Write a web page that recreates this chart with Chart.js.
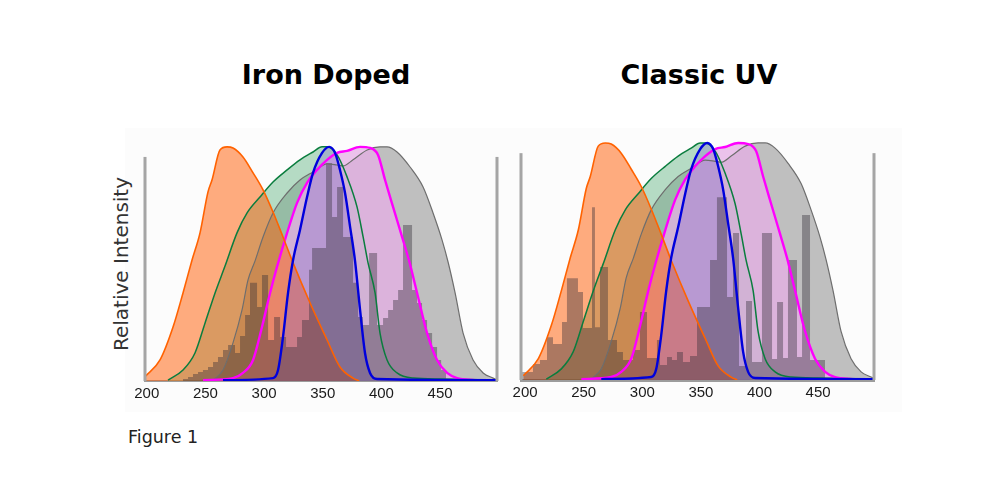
<!DOCTYPE html>
<html><head><meta charset="utf-8">
<script src="https://cdn.jsdelivr.net/npm/chart.js@4.4.1/dist/chart.umd.min.js"></script>
<style>
html,body{margin:0;padding:0;background:#fff;}
body{width:1000px;height:501px;position:relative;overflow:hidden;font-family:"DejaVu Sans",sans-serif;}
#panel{position:absolute;left:125px;top:128px;width:777px;height:284px;background:#fcfcfc;}
canvas{position:absolute;}
.title{position:absolute;top:60px;width:300px;text-align:center;font-weight:bold;font-size:27px;line-height:30px;color:#000;}
#ylab{position:absolute;left:11px;top:252px;width:220px;height:24px;line-height:24px;text-align:center;font-size:20px;color:#333;transform:rotate(-90deg);}
#fig{position:absolute;left:128px;top:428px;font-size:17.5px;line-height:18px;color:#222;}
</style></head><body>
<div id="panel"></div>
<div class="title" style="left:176px">Iron Doped</div>
<div class="title" style="left:549px">Classic UV</div>
<div id="ylab">Relative Intensity</div>
<div id="fig">Figure 1</div>
<canvas id="c1" width="392" height="311" style="left:125px;top:100px"></canvas>
<canvas id="c2" width="393" height="314" style="left:501px;top:96px"></canvas>
<script>
const tickValues = [200, 250, 300, 350, 400, 450];

const orangeX = [198.5, 211.3, 222.4, 230.9, 238.6, 245.4, 252.2, 255.6, 262.4, 268.4, 273.5, 282.0, 290.6, 299.1, 307.6, 316.1, 324.7, 339.2, 353.7, 364.7, 375.8, 381];
const orangeY = [0.019, 0.094, 0.241, 0.393, 0.540, 0.661, 0.844, 0.897, 1.031, 1.045, 1.040, 1.0, 0.929, 0.853, 0.754, 0.643, 0.527, 0.348, 0.183, 0.0625, 0.013, 0];

const greenX = [218.1, 230.9, 241.1, 249.7, 258.2, 266.7, 276.9, 285.5, 296.5, 307.6, 319.6, 330.6, 341.7, 349.4, 353.7, 362.2, 370.7, 379.2, 384.4, 388.6, 394.6, 398.8, 404.8, 413.3, 427.0, 450, 498.5];
const greenY = [0.004, 0.049, 0.125, 0.259, 0.393, 0.513, 0.661, 0.75, 0.821, 0.888, 0.942, 0.987, 1.022, 1.045, 1.045, 1.009, 0.911, 0.777, 0.643, 0.527, 0.393, 0.214, 0.094, 0.036, 0.013, 0.009, 0.004];

const grayX = [256.5, 265.0, 273.5, 281.2, 286.3, 292.3, 299.1, 307.6, 319.6, 330.6, 341.7, 353.7, 362.2, 367.3, 375.8, 387.8, 398.8, 404.8, 413.3, 424.4, 435.5, 444.0, 451.7, 456.8, 462.8, 469.6, 478.1, 486.7, 495.2, 498.5];
const grayY = [0.004, 0.049, 0.170, 0.317, 0.451, 0.536, 0.643, 0.75, 0.839, 0.897, 0.933, 0.969, 0.964, 0.960, 0.987, 1.031, 1.045, 1.045, 1.022, 0.955, 0.866, 0.75, 0.629, 0.531, 0.393, 0.214, 0.094, 0.036, 0.013, 0.005];

const magentaX = [248, 273.5, 282.0, 290.6, 298.2, 305.1, 311.0, 319.6, 328.1, 336.6, 345.1, 353.7, 362.2, 370.7, 381.8, 390.3, 397.1, 403.1, 409.9, 417.6, 423.6, 430.4, 438.9, 447.4, 456.0, 464.5, 479.8];
const magentaY = [0.004, 0.013, 0.036, 0.094, 0.241, 0.393, 0.509, 0.661, 0.795, 0.884, 0.942, 0.987, 1.018, 1.027, 1.045, 1.040, 1.009, 0.897, 0.777, 0.643, 0.536, 0.393, 0.214, 0.094, 0.036, 0.013, 0.004];

const blueX = [265, 307.6, 311.9, 316.1, 320.4, 324.7, 330.6, 336.6, 341.7, 349.4, 355.4, 360.5, 364.7, 369.0, 373.3, 377.5, 381.8, 386.0, 390.3, 396.3, 498.5];
const blueY = [0.004, 0.013, 0.049, 0.196, 0.393, 0.540, 0.674, 0.821, 0.929, 1.018, 1.045, 1.018, 0.942, 0.839, 0.688, 0.536, 0.317, 0.125, 0.036, 0.009, 0.004];

// lamp spectra: bin start wavelengths and relative heights
const ironHistEdges = [230.9, 235.2, 239.4, 243.7, 247.9, 252.2, 256.5, 260.7, 265.0, 269.3, 275.2, 279.5, 283.8, 288.0, 294.0, 298.2, 303.4, 308.5, 313.6, 318.7, 328.1, 332.3, 338.3, 340.9, 352.8, 357.9, 362.2, 367.3, 375.8, 380.1, 384.3, 389.5, 396.3, 401.4, 405.7, 409.9, 414.2, 418.4, 426.1, 430.4, 434.6, 438.9, 443.2, 447.4, 450.9, 455.1];
const ironHistHeights = [0.009, 0.018, 0.031, 0.040, 0.049, 0.063, 0.085, 0.107, 0.138, 0.161, 0.125, 0.201, 0.295, 0.438, 0.330, 0.473, 0.183, 0.286, 0.196, 0.152, 0.196, 0.272, 0.496, 0.594, 0.973, 0.732, 0.866, 0.643, 0.438, 0.286, 0.25, 0.571, 0.25, 0.281, 0.317, 0.362, 0.406, 0.696, 0.406, 0.348, 0.272, 0.214, 0.152, 0.094, 0.049, 0];

const uvHistEdges = [196.5, 206.7, 212.7, 218.7, 223.8, 231.5, 235.7, 245.1, 249.4, 257.1, 259.6, 263.9, 270.7, 278.4, 283.5, 292.1, 298.0, 304.0, 312.5, 315.1, 321.1, 325.3, 329.6, 334.7, 340.7, 346.7, 357.8, 363.7, 372.3, 377.4, 382.5, 388.5, 393.6, 402.1, 410.7, 415.0, 420.1, 424.3, 432.0, 436.3, 443.1, 455.9];
const uvHistHeights = [0.035, 0.070, 0.088, 0.189, 0.159, 0.256, 0.449, 0.388, 0.229, 0.762, 0.233, 0.498, 0.176, 0.123, 0.088, 0.132, 0.300, 0.097, 0.176, 0.066, 0.101, 0.088, 0.123, 0.079, 0.106, 0.322, 0.529, 0.806, 0.366, 0.648, 0.062, 0.348, 0.079, 0.648, 0.093, 0.344, 0.097, 0.529, 0.101, 0.727, 0.088, 0];

const frameHeight = 1.0;

function pts(xs, ys) { return xs.map((x, i) => ({ x: x, y: ys[i] })); }

function curve(label, xs, ys, line, fillc, w, order) {
  return { label, data: pts(xs, ys), borderColor: line, backgroundColor: fillc, borderWidth: w,
           fill: 'origin', pointRadius: 0, cubicInterpolationMode: 'monotone', order };
}

function makeChart(id, histX, histY, xMin, xMax, baseWidth) {
  return new Chart(document.getElementById(id), {
    type: 'line',
    data: { datasets: [
      curve('Gray', grayX, grayY, '#6e6e6e', 'rgba(130,130,130,0.5)', 1.2, 7),
      curve('Green', greenX, greenY, '#0a7d3e', 'rgba(110,185,140,0.5)', 1.5, 6),
      curve('Magenta', magentaX, magentaY, '#ff00ff', 'rgba(230,175,230,0.75)', 2.4, 5),
      curve('Orange', orangeX, orangeY, '#ff6200', 'rgba(255,90,0,0.5)', 1.6, 4),
      curve('Blue', blueX, blueY, '#0000dc', 'rgba(125,95,205,0.3)', 2.4, 3),
      { label: 'Lamp', data: pts(histX, histY), stepped: true, fill: 'origin',
        backgroundColor: 'rgba(50,45,55,0.4)', borderColor: 'rgba(0,0,0,0)', borderWidth: 1, pointRadius: 0, order: 2 },
      { label: 'frameL', data: [{ x: xMin, y: 0 }, { x: xMin, y: frameHeight }], borderColor: '#a5a5a5',
        borderWidth: 3, pointRadius: 0, fill: false, order: 0, clip: false },
      { label: 'frameR', data: [{ x: xMax, y: 0 }, { x: xMax, y: frameHeight }], borderColor: '#a5a5a5',
        borderWidth: 3, pointRadius: 0, fill: false, order: 0, clip: false }
    ] },
    options: {
      responsive: false, animation: false, devicePixelRatio: 1,
      layout: { padding: { left: 20, right: 20, top: 39, bottom: 0 } },
      plugins: { legend: { display: false }, tooltip: { enabled: false }, filler: { drawTime: 'beforeDatasetsDraw' } },
      scales: {
        x: { type: 'linear', min: xMin, max: xMax,
             afterBuildTicks: s => { s.ticks = tickValues.map(v => ({ value: v })); },
             afterFit: s => { s.height = 30; },
             grid: { display: false, drawTicks: false },
             border: { display: true, color: '#9c9c9c', width: baseWidth },
             ticks: { color: '#1a1a1a', font: { family: 'Liberation Sans', size: 15 }, padding: 4, maxRotation: 0, autoSkip: false } },
        y: { display: false, min: 0, max: 1.08 }
      }
    }
  });
}

makeChart('c1', ironHistEdges, ironHistHeights, 198.5, 498.5, 2);
makeChart('c2', uvHistEdges, uvHistHeights, 196.5, 497.7, 3);
</script>
</body></html>
